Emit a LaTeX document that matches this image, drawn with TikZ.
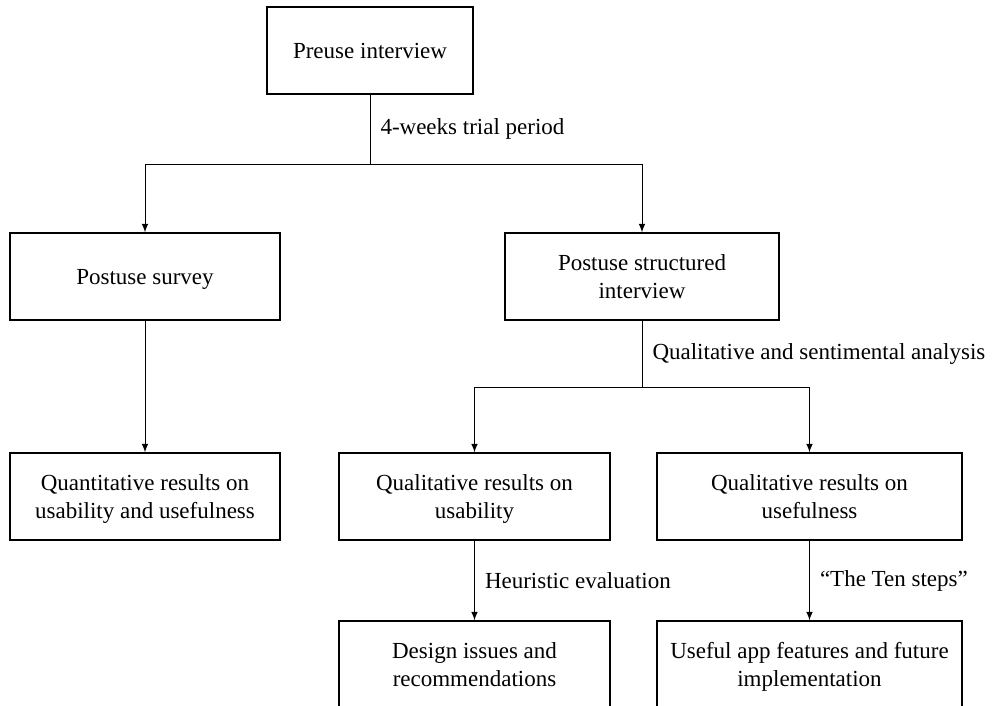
\documentclass[tikz,border=0pt]{standalone}
\usepackage{fontspec}
\setmainfont{Liberation Serif}
\usepackage{tikz}
\usetikzlibrary{arrows,positioning}
\newcommand{\tallline}{\rule{0pt}{12pt}}

\begin{document}
\begin{tikzpicture}[x=0.5pt,y=-0.5pt,
	box/.style={draw,line width=0.6pt,align=center,inner sep=0pt,minimum height=43.5pt,font=\fontsize{11.5}{14}\selectfont,execute at end node=\strut},
	lbl/.style={right,inner sep=5pt,font=\fontsize{11.5}{14}\selectfont},
	link/.style={line width=0.5pt}]
		\useasboundingbox (0,0) rectangle (995,706);
		\clip (0,0) rectangle (995,706);
		\node[box,minimum width=103pt] (pre) at (370,50.5) {\tallline Preuse interview};
		\node[box,minimum width=135pt] (survey) at (145,276.5) {\tallline Postuse survey};
		\node[box,minimum width=137pt] (struct) at (642,276.5) {\tallline Postuse structured\\interview};
		\node[box,minimum width=135pt] (quant) at (145,496.5) {\tallline Quantitative results on\\usability and usefulness};
		\node[box,minimum width=135.5pt] (qusab) at (474.5,496.5) {\tallline Qualitative results on\\usability};
		\node[box,minimum width=152.5pt] (qusef) at (809.5,496.5) {\tallline Qualitative results on\\usefulness};
		\node[box,minimum width=135.5pt] (design) at (474.5,664.5) {\tallline Design issues and\\recommendations};
		\node[box,minimum width=152.5pt] (feat) at (809.5,664.5) {\tallline Useful app features and future\\implementation};
		\coordinate (split1) at (370,164);
		\coordinate (split2) at (642,387);
		\draw[link] (pre) -- node[lbl] {4-weeks trial period} (split1);
		\draw[link,-latex] (split1) -| (survey);
		\draw[link,-latex] (split1) -| (struct);
		\draw[link,-latex] (survey) -- (quant);
		\draw[link] (struct) -- node[lbl] {Qualitative and sentimental analysis} (split2);
		\draw[link,-latex] (split2) -| (qusab);
		\draw[link,-latex] (split2) -| (qusef);
		\draw[link,-latex] (qusab) -- node[lbl] {Heuristic evaluation} (design);
		\draw[link,-latex] (qusef) -- node[lbl] {``The Ten steps''} (feat);
	\end{tikzpicture}
\end{document}
